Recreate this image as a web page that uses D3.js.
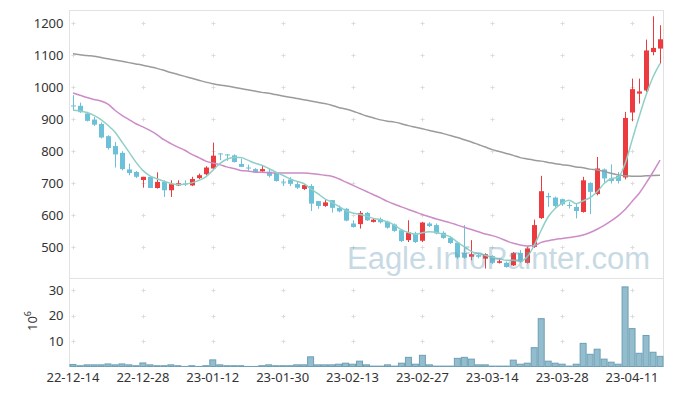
<!DOCTYPE html>
<html>
<head>
<meta charset="utf-8">
<script src="https://cdn.jsdelivr.net/npm/d3@7"></script>
<style>
  body { margin: 0; background: #fff; }
  text { font-family: "Noto Sans", sans-serif; }
</style>
</head>
<body>
<svg width="673" height="396"></svg>
<script>
// trading days (Korean market)
const dates = [
  "22-12-14","22-12-15","22-12-16","22-12-19","22-12-20","22-12-21","22-12-22","22-12-23","22-12-26","22-12-27",
  "22-12-28","22-12-29","23-01-02","23-01-03","23-01-04","23-01-05","23-01-06","23-01-09","23-01-10","23-01-11",
  "23-01-12","23-01-13","23-01-16","23-01-17","23-01-18","23-01-19","23-01-20","23-01-25","23-01-26","23-01-27",
  "23-01-30","23-01-31","23-02-01","23-02-02","23-02-03","23-02-06","23-02-07","23-02-08","23-02-09","23-02-10",
  "23-02-13","23-02-14","23-02-15","23-02-16","23-02-17","23-02-20","23-02-21","23-02-22","23-02-23","23-02-24",
  "23-02-27","23-02-28","23-03-02","23-03-03","23-03-06","23-03-07","23-03-08","23-03-09","23-03-10","23-03-13",
  "23-03-14","23-03-15","23-03-16","23-03-17","23-03-20","23-03-21","23-03-22","23-03-23","23-03-24","23-03-27",
  "23-03-28","23-03-29","23-03-30","23-03-31","23-04-03","23-04-04","23-04-05","23-04-06","23-04-07","23-04-10",
  "23-04-11","23-04-12","23-04-13","23-04-14","23-04-17"
];

const open = [
  943,942,918,899,885,847,816,795,743,735,
  710,720,685,704,678,693,699,693,716,728,
  746,793,790,787,760,749,744,737,736,733,
  705,711,697,682,691,644,629,647,623,620,
  574,572,607,579,588,580,571,553,522,543,
  520,574,569,545,529,514,482,470,475,464,
  472,451,451,443,482,451,501,591,660,655,
  650,632,626,610,701,666,743,715,723,718,
  921,980,990,1110,1121
];
const high = [
  975,952,923,907,890,850,829,800,761,738,
  720,720,734,709,709,709,709,720,730,753,
  827,794,791,790,777,758,747,756,746,735,
  713,719,707,694,697,644,647,647,630,622,
  584,613,610,590,593,583,574,556,584,548,
  579,578,574,550,535,517,569,522,481,481,
  475,464,455,485,491,501,586,723,670,658,
  652,642,636,720,703,782,746,759,735,923,
  1027,1027,1149,1222,1194
];
const low = [
  928,920,893,879,840,805,749,740,725,716,
  686,685,683,657,657,691,691,691,713,725,
  744,772,770,765,751,739,732,736,718,705,
  691,691,682,679,613,620,626,608,609,581,
  561,558,582,577,574,558,548,516,516,513,
  516,563,540,526,510,464,464,459,465,433,
  447,449,436,441,451,449,498,588,626,624,
  629,621,590,608,603,662,699,699,699,712,
  894,949,985,1100,1074
];
const close = [
  941,922,895,883,843,810,790,744,732,720,
  720,685,704,678,697,700,697,713,725,749,
  786,791,788,766,751,747,733,744,723,707,
  703,698,686,694,636,629,640,623,612,583,
  563,607,584,586,578,561,551,519,546,516,
  577,566,543,529,513,468,467,478,470,478,
  451,456,438,482,454,496,569,675,656,629,
  634,630,613,709,673,746,715,707,707,904,
  994,987,1115,1123,1150
];
// volume, millions
const volume = [
  0.8,0.3,0.65,0.65,0.65,1.0,0.65,1.0,0.65,0.3,
  1.4,0.65,0.3,0.3,0.65,0.3,0.02,0.3,0.02,0.3,
  2.6,0.65,0.3,0.3,0.3,0.02,0.02,0.3,0.65,0.3,
  0.3,0.3,0.65,0.65,3.8,0.65,0.65,0.65,0.9,1.3,
  0.9,2.1,0.65,0.15,0.15,0.65,0.15,1.3,3.6,0.9,
  4.4,0.65,0.15,0.15,0.15,3.2,3.6,2.9,0.65,0.65,
  0.15,0.15,0.15,2.5,0.9,1.3,7.4,18.8,2.1,1.3,
  0.9,0.15,0.9,9.1,4.8,6.8,2.9,1.7,0.9,31.3,
  14.9,5.2,12.2,5.6,4.0
];
// moving averages as drawn
const ma5 = [
  928,926,921,912,899,881,860,829,798,766,
  740,723,714,706,699,696,697,701,709,720,
  740,761,775,780,780,772,763,756,746,735,
  725,714,706,699,683,668,652,641,628,615,
  607,603,597,590,586,579,569,555,546,540,
  545,548,546,540,532,516,501,487,480,475,
  468,464,459,459,456,470,506,553,595,621,
  638,647,636,645,655,673,699,714,718,761,
  834,907,975,1032,1074
];
const ma20 = [
  982,975,968,962,957,947,928,912,899,886,
  876,865,852,836,824,813,803,790,780,769,
  763,758,751,746,740,738,735,734,733,732,
  732,732,732,732,730,728,725,722,714,704,
  694,684,674,664,654,643,634,626,618,610,
  602,595,588,582,576,569,562,555,548,541,
  536,529,520,512,507,504,505,515,520,524,
  527,530,533,538,546,556,568,582,598,618,
  643,668,700,735,772
];
const ma60 = [
  1105,1102,1099,1097,1093,1089,1085,1081,1077,1073,
  1069,1064,1059,1053,1046,1040,1034,1028,1022,1016,
  1011,1007,1004,1000,996,992,988,984,981,977,
  973,969,965,961,957,953,949,944,937,932,
  926,918,910,904,898,894,891,886,880,875,
  870,865,860,855,849,843,836,829,821,813,
  805,799,793,787,780,776,772,769,765,761,
  758,755,751,748,744,741,737,731,726,723,
  722,722,723,724,725
];

const tickDates = ["22-12-14","22-12-28","23-01-12","23-01-30","23-02-13","23-02-27","23-03-14","23-03-28","23-04-11"];
const priceTicks = [500, 600, 700, 800, 900, 1000, 1100, 1200];
const volTicks = [10, 20, 30];

const svg = d3.select("svg");

const left = 69.5, right = 663.5;
const priceTop = 10.5, priceBottom = 278.5, volBottom = 366.5;

const x = d3.scaleBand().domain(dates).range([left, right]);
const bw = x.bandwidth();
const cx = d => x(d) + bw / 2;

const y = d3.scaleLinear().domain([402, 1240]).range([priceBottom, priceTop]);
const yv = d3.scaleLinear().domain([0, 34.6]).range([volBottom, priceBottom]);

const upColor = "#ec3a3e";
const downColor = "#6cc0d7";

// frame
svg.append("rect")
  .attr("x", left).attr("y", priceTop)
  .attr("width", right - left).attr("height", volBottom - priceTop)
  .attr("fill", "none").attr("stroke", "#e2e2e2");
svg.append("line")
  .attr("x1", left).attr("x2", right)
  .attr("y1", priceBottom).attr("y2", priceBottom)
  .attr("stroke", "#e2e2e2");

// grid crosses
const crossG = svg.append("g").attr("stroke", "#dcdcdc").attr("stroke-width", 1);
const crossPts = [];
tickDates.forEach(d => {
  priceTicks.forEach(p => crossPts.push([Math.round(cx(d)) + 0.5, Math.round(y(p)) + 0.5]));
  volTicks.forEach(v => crossPts.push([Math.round(cx(d)) + 0.5, Math.round(yv(v)) + 0.5]));
});
crossG.selectAll("path").data(crossPts).join("path")
  .attr("d", p => `M${p[0] - 2},${p[1]}h4M${p[0]},${p[1] - 2}v4`);

// volume bars
svg.append("g").selectAll("rect").data(dates).join("rect")
  .attr("x", d => x(d) + 0.5)
  .attr("width", bw - 1)
  .attr("y", (d, i) => yv(volume[i]))
  .attr("height", (d, i) => volBottom - yv(volume[i]))
  .attr("fill", "#93bccc")
  .attr("stroke", "#6d9fb6")
  .attr("stroke-width", 1);

// candles
const candles = svg.append("g").selectAll("g").data(dates).join("g")
  .attr("fill", (d, i) => close[i] > open[i] ? upColor : downColor)
  .attr("stroke", (d, i) => close[i] > open[i] ? upColor : downColor);

candles.append("line")
  .attr("x1", d => Math.round(cx(d)) + 0.5)
  .attr("x2", d => Math.round(cx(d)) + 0.5)
  .attr("y1", (d, i) => y(high[i]))
  .attr("y2", (d, i) => y(low[i]))
  .attr("stroke-width", 1);

candles.append("rect")
  .attr("x", d => Math.round(cx(d)) - 2)
  .attr("width", 5)
  .attr("y", (d, i) => y(Math.max(open[i], close[i])))
  .attr("height", (d, i) => Math.max(1, Math.abs(y(open[i]) - y(close[i]))))
  .attr("stroke", "none");

// moving average lines
const line = d3.line()
  .x((d, i) => cx(dates[i]))
  .y(d => y(d))
  .curve(d3.curveMonotoneX);

[[ma60, "#9b9b9b"], [ma20, "#cc8cc8"], [ma5, "#8fd0c6"]].forEach(([s, c]) => {
  svg.append("path")
    .attr("d", line(s))
    .attr("fill", "none")
    .attr("stroke", c)
    .attr("stroke-width", 1.5);
});

// watermark
svg.append("text")
  .attr("x", 347).attr("y", 268.5)
  .style("font-family", "'Liberation Sans', Arial, sans-serif")
  .attr("font-size", 31)
  .attr("fill", "#6f9fb9")
  .attr("opacity", 0.38)
  .attr("textLength", 303)
  .text("Eagle.InfoPainter.com");

// axes
const yAxis = svg.append("g")
  .attr("transform", `translate(${left},0)`)
  .call(d3.axisLeft(y).tickValues(priceTicks).tickFormat(d3.format("d")).tickSize(0).tickPadding(6));
const vAxis = svg.append("g")
  .attr("transform", `translate(${left},0)`)
  .call(d3.axisLeft(yv).tickValues(volTicks).tickFormat(d3.format("d")).tickSize(0).tickPadding(6));
const xAxis = svg.append("g")
  .attr("transform", `translate(0,${volBottom})`)
  .call(d3.axisBottom(x).tickValues(tickDates).tickSize(0).tickPadding(6));

[yAxis, vAxis, xAxis].forEach(a => {
  a.select(".domain").remove();
  a.selectAll("text")
    .attr("fill", "#333")
    .attr("font-size", 13)
    .style("font-family", "'Noto Sans', sans-serif");
});

// volume unit label
const unit = svg.append("text")
  .attr("transform", "translate(37,321) rotate(-90)")
  .attr("text-anchor", "middle")
  .attr("fill", "#333")
  .attr("font-size", 13);
unit.append("tspan").text("10");
unit.append("tspan").attr("font-size", 9).attr("dy", -6).text("6");
</script>
</body>
</html>
